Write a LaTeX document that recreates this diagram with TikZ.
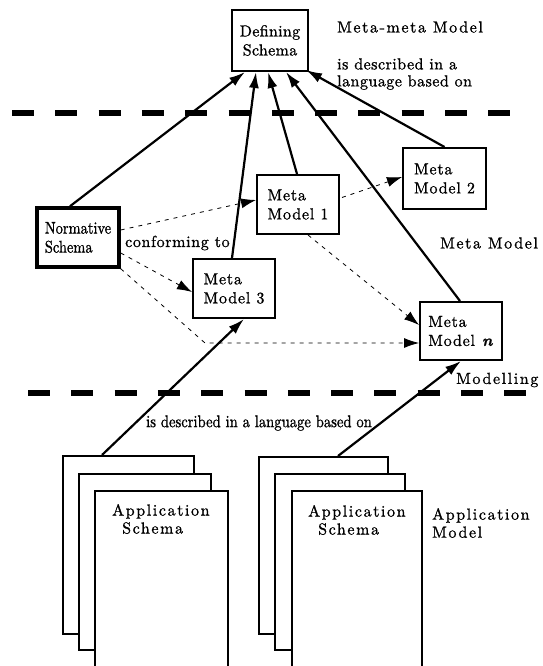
\documentclass[tikz,border=0pt]{standalone}
\usepackage{fontspec}
\setmainfont{lmroman10-regular.otf}[ItalicFont=lmroman10-italic.otf,BoldFont=lmroman10-bold.otf,BoldItalicFont=lmroman10-bolditalic.otf,FakeBold=1]
\usetikzlibrary{arrows.meta,calc}
\newcommand\dgbox{\fontsize{16}{19}\selectfont\addfontfeature{LetterSpace=5,FakeBold=1}}
\newcommand\dgdef{\fontsize{16}{19}\selectfont\addfontfeature{LetterSpace=2,FakeBold=1}}
\newcommand\dglab{\fontsize{16}{18}\selectfont\addfontfeature{LetterSpace=10,FakeBold=1}}
\newcommand\dgnorm{\fontsize{17}{19}\selectfont\addfontfeature{FakeStretch=0.85,FakeBold=1}}
\newcommand\dgdesc{\fontsize{16}{17}\selectfont\addfontfeature{LetterSpace=3,FakeBold=1}}
\newcommand\dgconf{\fontsize{16}{19}\selectfont\addfontfeature{LetterSpace=4,FakeBold=1}}
\newcommand\dgbot{\fontsize{17}{19}\selectfont\addfontfeature{FakeStretch=0.86,FakeBold=1}}
\begin{document}
\begin{tikzpicture}[x=1pt,y=-1pt,
  box/.style={draw,line width=2pt,fill=white,inner sep=0pt,align=left,font=\dgbox,
    minimum width=82pt,minimum height=59pt},
  page/.style={draw,line width=2pt,fill=white,anchor=north west,inner sep=0pt},
  lab/.style={inner sep=0pt,anchor=west,align=left,font=\dglab},
  sep/.style={line width=6pt,dash pattern=on 22pt off 21.3pt},
  arr/.style={line width=2.2pt,-{Latex[length=16pt,width=10pt]}},
  darr/.style={line width=0.8pt,dash pattern=on 4pt off 5pt,-{Latex[length=15pt,width=10pt]}}
]
\useasboundingbox[fill=white] (0,0) rectangle (542,666);

% separators
\draw[sep] (12,113) -- (510,113);
\draw[sep] (28,393) -- (527,393);

% nodes
\node[box,minimum width=76pt,minimum height=61pt,align=center,font=\dgdef] (def) at (270,40.5) {Defining\\Schema};
\node[box] (mm1) at (298,204.5) {Meta\\Model 1};
\node[box,minimum width=83pt,minimum height=61pt] (mm2) at (444.5,178.5) {Meta\\Model 2};
\node[box] (mm3) at (234,288.5) {Meta\\Model 3};
\node[box,minimum height=58pt] (mmn) at (461,331) {Meta\\Model \textbf{\textit{n}}};
\node[box,line width=3.5pt,font=\dgnorm] (norm) at (78,237.5) {Normative\\Schema};

% stacks
\node[page,minimum width=131pt,minimum height=178pt] (lb) at (62,455) {};
\node[page,minimum width=132pt,minimum height=176pt] (lm) at (78,473) {};
\node[page,minimum width=133pt,minimum height=200pt] (lf) at (94,490) {};
\node[page,minimum width=129pt,minimum height=177pt] (rb) at (258,456) {};
\node[page,minimum width=130pt,minimum height=176pt] (rm) at (274,473) {};
\node[page,minimum width=130pt,minimum height=200pt] (rf) at (291,490) {};
\node[lab] (lft) at (112,519) {Application\\\hspace*{10pt}Schema};
\node[lab] (rft) at (308,520) {Application\\\hspace*{10pt}Schema};

% labels
\node[lab] (mmm) at (337,27) {Meta-meta Model};
\node[lab,font=\dgdesc] (desc) at (337,74) {is described in a\\language based on};
\node[lab] (mml) at (440,243) {Meta Model};
\node[lab] (modl) at (456,380) {Modelling};
\node[lab] (appm) at (432,523) {Application\\Model};
\node[lab,font=\dgconf] (conf) at (125,243) {conforming to};
\node[lab,font=\dgbot] (bdesc) at (146,423) {is described in a language based on};

% solid arrows
\draw[arr] ($(norm.north)+(-8,0)$) -- ($(def.south)+(-25,0)$);
\draw[arr] ($(mm3.north)+(-2,0)$) -- ($(def.south)+(-14,0)$);
\draw[arr] ($(mm1.north)+(-1,0)$) -- ($(def.south)+(-2,0)$);
\draw[arr] ($(mmn.north)+(-1,0)$) -- ($(def.south)+(16,0)$);
\draw[arr] ($(mm2.north)+(0,0)$) -- ($(def.south east)+(-3,-2)$);
\draw[arr] ($(lb.north west)+(40,0)$) -- ($(mm3.south)+(10,0)$);
\draw[arr] ($(rb.north west)+(80,0)$) -- (mmn.south);

% dashed arrows
\coordinate (bend) at (205,343);
\draw[darr] ($(norm.east)+(0,-7.5)$) -- ($(mm1.west)+(0,-4.5)$);
\draw[darr] ($(norm.east)+(0,15.5)$) -- ($(mm3.west)+(0,3.5)$);
\draw[darr] (norm.south east) -- (bend) -- ($(mmn.west)+(0,12)$);
\draw[darr] ($(mm1.south)+(10,0)$) -- ($(mmn.west)+(0,-6)$);
\draw[darr] ($(mm1.east)+(2,-7)$) -- ($(mm2.west)+(0,-1.5)$);
\end{tikzpicture}
\end{document}
